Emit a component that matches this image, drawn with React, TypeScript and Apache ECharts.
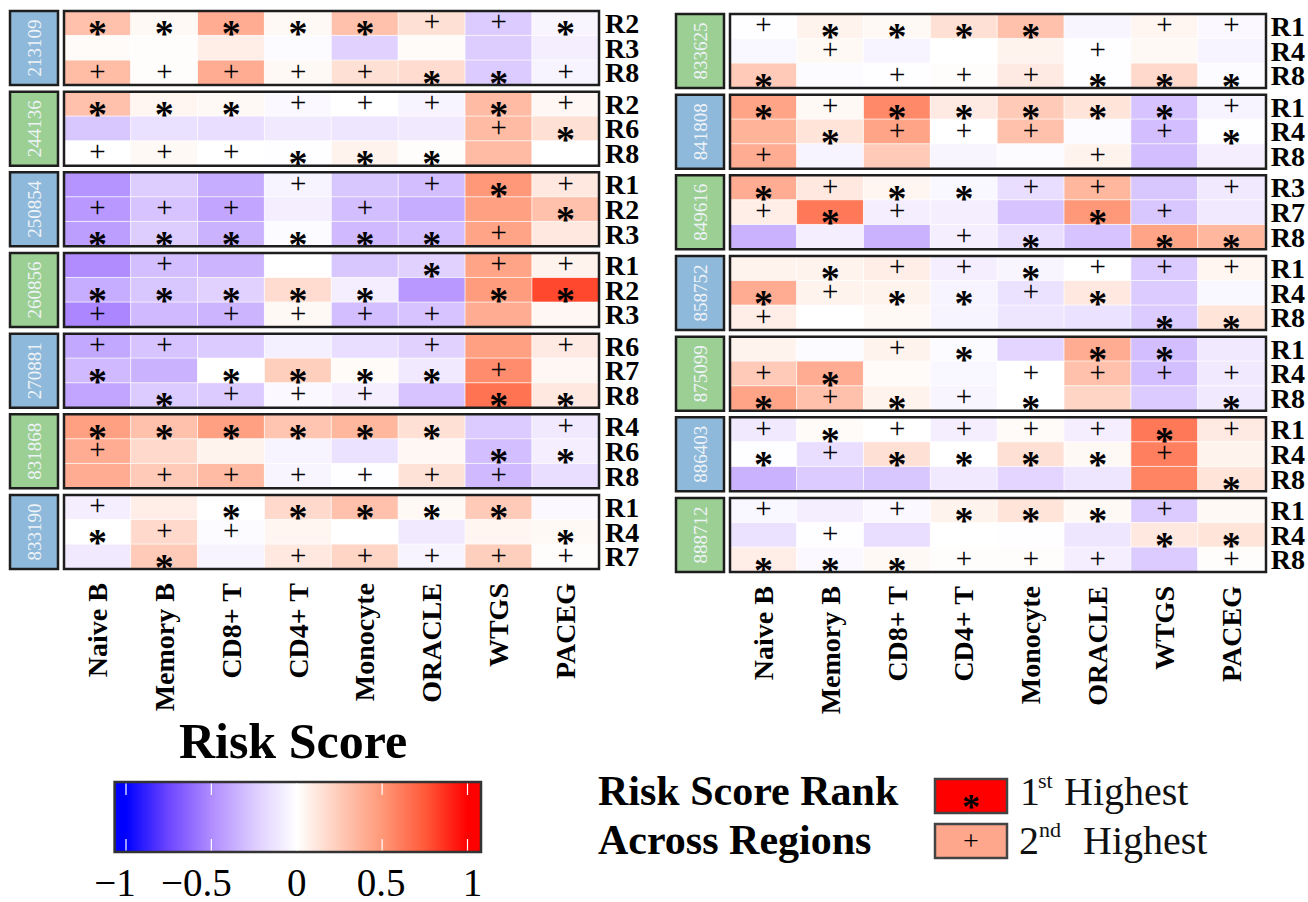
import React, { useEffect, useRef } from 'react';
import * as echarts from 'echarts';

const cellTypes = ['Naive B', 'Memory B', 'CD8+ T', 'CD4+ T', 'Monocyte', 'ORACLE', 'WTGS', 'PACEG'];

const leftIds = ['213109', '244136', '250854', '260856', '270881', '831868', '833190'];
const rightIds = ['833625', '841808', '849616', '858752', '875099', '886403', '888712'];

const leftRegions = [
  ['R2', 'R3', 'R8'], ['R2', 'R6', 'R8'], ['R1', 'R2', 'R3'], ['R1', 'R2', 'R3'],
  ['R6', 'R7', 'R8'], ['R4', 'R6', 'R8'], ['R1', 'R4', 'R7'],
];
const rightRegions = [
  ['R1', 'R4', 'R8'], ['R1', 'R4', 'R8'], ['R3', 'R7', 'R8'], ['R1', 'R4', 'R8'],
  ['R1', 'R4', 'R8'], ['R1', 'R4', 'R8'], ['R1', 'R4', 'R8'],
];

// risk scores, one row per region (3 rows per sample)
const leftValues = [
  [0.3, 0.03, 0.4, 0.03, 0.3, 0.15, -0.25, -0.05],
  [0.02, 0.01, 0.08, -0.02, -0.22, 0.02, -0.24, -0.08],
  [0.32, 0.01, 0.4, 0.03, 0.15, 0.17, -0.25, -0.06],
  [0.3, 0.05, 0.03, -0.03, 0, -0.06, 0.33, 0.04],
  [-0.27, -0.15, -0.16, -0.1, -0.12, -0.1, 0.33, 0.15],
  [0, 0.03, 0, -0.01, 0.06, 0.01, 0.33, 0],
  [-0.47, -0.24, -0.37, -0.06, -0.27, -0.3, 0.5, 0.11],
  [-0.45, -0.28, -0.4, -0.08, -0.3, -0.37, 0.46, 0.3],
  [-0.43, -0.24, -0.35, -0.02, -0.32, -0.3, 0.44, 0.11],
  [-0.5, -0.3, -0.34, 0, -0.27, -0.22, 0.44, 0.06],
  [-0.37, -0.27, -0.22, 0.17, -0.08, -0.45, 0.48, 0.8],
  [-0.52, -0.32, -0.34, 0.03, -0.3, -0.28, 0.4, 0.04],
  [-0.39, -0.28, -0.25, -0.07, -0.16, -0.22, 0.46, 0.1],
  [-0.32, -0.35, 0, 0.23, 0.02, -0.1, 0.55, 0.04],
  [-0.4, -0.25, -0.25, -0.03, -0.08, -0.28, 0.65, 0.11],
  [0.46, 0.3, 0.46, 0.28, 0.35, 0.15, -0.25, -0.1],
  [0.4, 0.18, 0.06, -0.06, -0.14, 0.04, -0.3, -0.08],
  [0.4, 0.25, 0.33, -0.05, -0.01, 0.14, -0.32, -0.16],
  [-0.08, 0.08, 0, 0.18, 0.3, 0.03, 0.25, -0.03],
  [0, 0.18, -0.02, 0.05, 0, -0.1, 0.05, 0.03],
  [-0.1, 0.25, -0.06, 0.11, 0.2, -0.06, 0.23, 0.01],
];
const rightValues = [
  [-0.01, 0.06, 0.03, 0.15, 0.3, -0.05, 0.05, -0.03],
  [-0.04, 0.03, -0.06, 0, 0.06, -0.01, 0.03, -0.06],
  [0.25, -0.02, -0.01, 0.01, 0.1, -0.01, 0.18, -0.02],
  [0.44, 0.03, 0.56, 0.1, 0.25, 0.13, -0.28, -0.06],
  [0.37, 0.13, 0.44, 0, 0.3, -0.02, -0.3, -0.01],
  [0.4, -0.06, 0.25, -0.05, -0.02, 0.06, -0.3, -0.08],
  [0.4, 0.11, 0.05, -0.04, -0.16, 0.35, -0.27, -0.1],
  [0.08, 0.63, -0.08, -0.08, -0.28, 0.5, -0.27, -0.1],
  [-0.35, -0.08, -0.35, -0.08, -0.16, -0.28, 0.44, 0.35],
  [0.06, 0.06, 0.08, -0.08, -0.05, 0, -0.25, 0.05],
  [0.4, 0.06, 0.06, -0.06, -0.14, 0.11, -0.25, -0.04],
  [0.08, 0, 0.03, -0.06, -0.12, -0.14, -0.25, 0.13],
  [0.06, -0.02, 0.06, -0.02, -0.2, 0.4, -0.3, -0.1],
  [0.25, 0.4, 0.02, -0.04, 0, 0.3, -0.3, -0.1],
  [0.44, 0.3, 0.06, -0.05, 0, 0.2, -0.25, -0.1],
  [-0.1, 0.02, 0, -0.08, 0.02, -0.08, 0.63, 0.1],
  [-0.01, -0.16, 0.15, 0, 0.15, 0.03, 0.6, 0.06],
  [-0.35, -0.25, -0.27, -0.1, -0.2, -0.12, 0.58, 0.13],
  [-0.04, -0.08, -0.03, 0.06, 0.13, 0.03, -0.25, 0.03],
  [-0.14, -0.01, -0.16, 0, -0.01, -0.12, 0.11, 0.13],
  [0.08, -0.03, 0.03, 0.01, 0.01, -0.08, -0.25, 0.01],
];

// rank across regions: S = 1st highest (*), P = 2nd highest (+), - = none
const leftMarks = [
  'SSSSSPPS', '--------', 'PPPPPSSP',
  'SSSPPPSP', '------PS', 'PPPSSS--',
  '---P-PSP', 'PPP-P--S', 'SSSSSSP-',
  '-P---SPP', 'SSSSS-SS', 'P-PPPP--',
  'PP---P-P', 'S-SSSSP-', '-SPPP-SS',
  'SSSSSS-P', 'P-----SS', '-PPPPPP-',
  'P-SSSSS-', 'SPP----S', '-S-PPPPP',
];
const rightMarks = [
  'PSSSS-PP', '-P---P--', 'S-PPPSSS',
  'SPSSSSSP', '-SPPP-PS', 'P----P--',
  'SPSSPP-P', 'PSP--SP-', '---PS-SS',
  '-SPPSPPP', 'SPSSPS--', 'P-----SS',
  '--PS-SS-', 'PS--PPPP', 'SPSPS--S',
  'PSPPPPSP', 'SPSSSSP-', '-------S',
  'P-PSSSP-', '-P----SS', 'SSSPPP-P',
];

const scaleTicks = [-1, -0.5, 0, 0.5, 1];
const scaleTickLabels = ['\u22121', '\u22120.5', '0', '0.5', '1'];

const FONT = 'Liberation Serif';
const RAMP_VALUES = [-1, -0.75, -0.5, -0.25, 0, 0.25, 0.5, 0.75, 1];
const RAMP = ['#0000ff', '#6e46ff', '#b08cff', '#dccbff', '#ffffff', '#ffcbb8', '#ff9878', '#ff5a3a', '#ff0000'];

function buildOption() {
  const grids: any[] = [];
  const xAxes: any[] = [];
  const yAxes: any[] = [];
  const series: any[] = [];
  const graphics: any[] = [];
  const pitch = 80.67;
  const h = 74;
  const blue = '#8fb9da';
  const green = '#9bcf93';
  const panels = [
    { ids: leftIds, regions: leftRegions, values: leftValues, marks: leftMarks, left: 64, width: 535, top0: 11, boxX: 10, colors: [blue, green] },
    { ids: rightIds, regions: rightRegions, values: rightValues, marks: rightMarks, left: 730, width: 536, top0: 14, boxX: 676, colors: [green, blue] },
  ];

  panels.forEach((p) => {
    p.ids.forEach((id, gi) => {
      const idx = grids.length;
      const top = p.top0 + gi * pitch;
      const last = gi === p.ids.length - 1;
      grids.push({ left: p.left, top, width: p.width, height: h });
      xAxes.push({
        type: 'category', gridIndex: idx, data: cellTypes,
        axisLine: { show: false }, axisTick: { show: false }, splitLine: { show: false },
        axisLabel: last
          ? { show: true, interval: 0, rotate: 90, margin: 14, fontFamily: FONT, fontWeight: 'bold', fontSize: 28, color: '#000' }
          : { show: false },
      });
      yAxes.push({
        type: 'category', gridIndex: idx, data: p.regions[gi], inverse: true, position: 'right',
        axisLine: { show: false }, axisTick: { show: false }, splitLine: { show: false },
        axisLabel: { interval: 0, fontFamily: FONT, fontWeight: 'bold', fontSize: 28, color: '#000', margin: 6, lineHeight: 22 },
      });
      const data: any[] = [];
      for (let r = 0; r < 3; r++) {
        const row = gi * 3 + r;
        for (let c = 0; c < cellTypes.length; c++) {
          const v = p.values[row][c];
          const m = p.marks[row][c];
          const item: any = { value: [c, r, v] };
          if (m === 'S') {
            item.label = { show: true, formatter: '*', fontSize: 38, fontWeight: 'bold', color: '#000', fontFamily: FONT, lineHeight: 18, offset: [0, 10] };
          } else if (m === 'P') {
            item.label = { show: true, formatter: '+', fontSize: 29, color: '#000', fontFamily: FONT, lineHeight: 18, offset: [0, -2] };
          }
          data.push(item);
        }
      }
      series.push({
        type: 'heatmap', xAxisIndex: idx, yAxisIndex: idx, data,
        label: { show: false },
        itemStyle: { borderColor: 'rgba(255,255,255,0.7)', borderWidth: 1 },
        emphasis: { disabled: true },
      });
      graphics.push({
        type: 'rect', z: 100, silent: true,
        shape: { x: p.left, y: top, width: p.width, height: h },
        style: { fill: 'none', stroke: '#1e1e1e', lineWidth: 2.5 },
      });
      graphics.push({
        type: 'rect', z: 100, silent: true,
        shape: { x: p.boxX, y: top, width: 48, height: h },
        style: { fill: p.colors[gi % 2], stroke: '#1e1e1e', lineWidth: 2.5 },
      });
      graphics.push({
        type: 'text', z: 101, silent: true, x: p.boxX + 24, y: top + h / 2, rotation: Math.PI / 2,
        style: { text: id, fill: '#eef3f8', fontFamily: FONT, fontSize: 19, align: 'center', verticalAlign: 'middle' },
      });
    });
  });

  // Risk Score colour bar
  const barX0 = 114.6, barX1 = 481, barY0 = 782, barY1 = 852;
  const vx = (v: number) => 126 + (v + 1) / 2 * (467.5 - 126);
  const stops: any[] = [{ offset: 0, color: RAMP[0] }];
  RAMP_VALUES.forEach((v, i) => stops.push({ offset: (vx(v) - barX0) / (barX1 - barX0), color: RAMP[i] }));
  stops.push({ offset: 1, color: RAMP[RAMP.length - 1] });
  graphics.push({
    type: 'text', x: 293, y: 741,
    style: { text: 'Risk Score', fontFamily: FONT, fontWeight: 'bold', fontSize: 50, fill: '#000', align: 'center', verticalAlign: 'middle' },
  });
  graphics.push({
    type: 'rect', shape: { x: barX0, y: barY0, width: barX1 - barX0, height: barY1 - barY0 },
    style: { fill: { type: 'linear', x: 0, y: 0, x2: 1, y2: 0, colorStops: stops }, stroke: '#333', lineWidth: 2.5 },
  });
  const labelShift = [-11, -15, 0, -1, 5];
  scaleTicks.forEach((t, i) => {
    const x = vx(t);
    graphics.push({ type: 'line', shape: { x1: x, y1: barY0 + 1.5, x2: x, y2: barY0 + 13 }, style: { stroke: '#fff', lineWidth: 1.2 } });
    graphics.push({ type: 'line', shape: { x1: x, y1: barY1 - 13, x2: x, y2: barY1 - 1.5 }, style: { stroke: '#fff', lineWidth: 1.2 } });
    graphics.push({
      type: 'text', x: x + labelShift[i], y: 882,
      style: { text: scaleTickLabels[i], fontFamily: FONT, fontSize: 39, lineHeight: 30, fill: '#000', align: 'center', verticalAlign: 'middle' },
    });
  });

  // Rank legend
  const legTitle = { fontFamily: FONT, fontWeight: 'bold', fontSize: 42, fill: '#000', align: 'left', verticalAlign: 'middle' };
  graphics.push({ type: 'text', x: 598, y: 791, style: { ...legTitle, text: 'Risk Score Rank' } });
  graphics.push({ type: 'text', x: 598, y: 840, style: { ...legTitle, text: 'Across Regions' } });
  graphics.push({ type: 'rect', shape: { x: 935, y: 779, width: 72, height: 34 }, style: { fill: '#ff0000', stroke: '#444', lineWidth: 2.5 } });
  graphics.push({ type: 'rect', shape: { x: 935, y: 824, width: 72, height: 34 }, style: { fill: '#ffa78c', stroke: '#444', lineWidth: 2.5 } });
  graphics.push({ type: 'text', x: 971, y: 807, style: { text: '*', fontFamily: FONT, fontWeight: 'bold', fontSize: 36, lineHeight: 16, fill: '#000', align: 'center', verticalAlign: 'middle' } });
  graphics.push({ type: 'text', x: 971, y: 840, style: { text: '+', fontFamily: FONT, fontSize: 28, lineHeight: 16, fill: '#000', align: 'center', verticalAlign: 'middle' } });
  const legText = { fontFamily: FONT, fontSize: 40, fill: '#111', align: 'left', verticalAlign: 'middle' };
  const supText = { fontFamily: FONT, fontSize: 22, fill: '#111', align: 'left', verticalAlign: 'middle' };
  graphics.push({ type: 'text', x: 1020, y: 791, style: { ...legText, text: '1' } });
  graphics.push({ type: 'text', x: 1038, y: 780, style: { ...supText, text: 'st' } });
  graphics.push({ type: 'text', x: 1064, y: 791, style: { ...legText, text: 'Highest' } });
  graphics.push({ type: 'text', x: 1019, y: 840, style: { ...legText, text: '2' } });
  graphics.push({ type: 'text', x: 1039, y: 829, style: { ...supText, text: 'nd' } });
  graphics.push({ type: 'text', x: 1083, y: 840, style: { ...legText, text: 'Highest' } });

  return {
    animation: false,
    backgroundColor: '#fff',
    grid: grids,
    xAxis: xAxes,
    yAxis: yAxes,
    visualMap: {
      type: 'continuous', show: false, min: -1, max: 1, dimension: 2,
      seriesIndex: series.map((_, i) => i),
      inRange: { color: RAMP },
    },
    series,
    graphic: graphics,
  };
}

export default function App() {
  const ref = useRef<HTMLDivElement>(null);
  useEffect(() => {
    if (!ref.current) return;
    const chart = echarts.init(ref.current, undefined, { renderer: 'svg' });
    chart.setOption(buildOption() as any);
    return () => chart.dispose();
  }, []);
  return <div ref={ref} style={{ position: 'absolute', left: 0, top: 0, width: 1308, height: 902 }} />;
}
